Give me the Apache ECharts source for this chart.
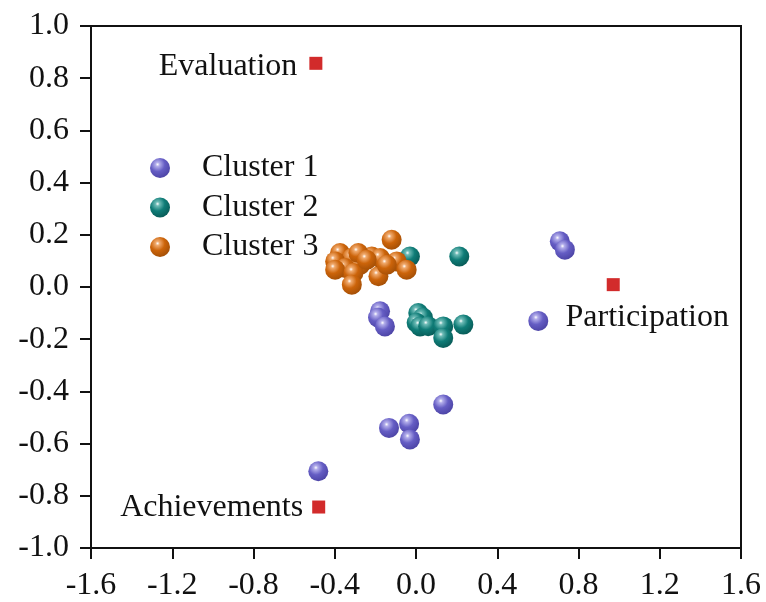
<!DOCTYPE html>
<html>
<head>
<meta charset="utf-8">
<script src="https://cdn.jsdelivr.net/npm/echarts@6/dist/echarts.min.js"></script>
<style>
  html, body { margin: 0; padding: 0; background: #fff; }
  #chart { width: 766px; height: 602px; }
</style>
</head>
<body>
<div id="chart"></div>
<script>
// Cluster members: [dimension 1, dimension 2]
const cluster1 = [
  [0.708, 0.175], [0.733, 0.143], [0.602, -0.130],
  [-0.177, -0.093], [-0.187, -0.117], [-0.153, -0.151],
  [0.134, -0.450], [-0.133, -0.540], [-0.034, -0.524],
  [-0.030, -0.584], [-0.481, -0.706]
];
const cluster2 = [
  [-0.030, 0.117], [0.213, 0.117],
  [0.011, -0.100], [0.034, -0.117], [0.003, -0.137], [0.020, -0.151],
  [0.060, -0.150], [0.134, -0.151], [0.233, -0.144], [0.134, -0.195]
];
const cluster3 = [
  [-0.120, 0.181], [-0.374, 0.130], [-0.316, 0.111], [-0.398, 0.098],
  [-0.275, 0.085], [-0.349, 0.073], [-0.398, 0.066], [-0.308, 0.054],
  [-0.316, 0.009], [-0.185, 0.041], [-0.095, 0.098], [-0.046, 0.066],
  [-0.218, 0.117], [-0.177, 0.111], [-0.144, 0.085], [-0.284, 0.130],
  [-0.243, 0.104]
];
// Variable loadings
const variableNames = ['Evaluation', 'Participation', 'Achievements'];
const variablePoints = [[-0.493, 0.857], [0.971, 0.009], [-0.479, -0.843]];

const seriesNames = ['Cluster 1', 'Cluster 2', 'Cluster 3'];
const xTicks = [-1.6, 1.6, 0.4];
const yTicks = [-1.0, 1.0, 0.2];

const FONT = 'Liberation Serif';

// shaded ball look for the cluster markers
function ball(light, base, dark) {
  return {
    type: 'radial', x: 0.38, y: 0.32, r: 0.72,
    colorStops: [
      { offset: 0, color: '#ffffff' },
      { offset: 0.14, color: light },
      { offset: 0.5, color: base },
      { offset: 1, color: dark }
    ]
  };
}
const palette = [
  ball('#b2adea', '#655dc4', '#4b43a4'),
  ball('#6fbcb7', '#0f7c77', '#085a56'),
  ball('#f0aa6e', '#cc640a', '#a24e06')
];

const clusterSeries = [cluster1, cluster2, cluster3].map((d, i) => ({
  name: seriesNames[i],
  type: 'scatter',
  data: d,
  symbol: 'circle',
  symbolSize: 20,
  itemStyle: { color: palette[i], opacity: 1 },
  z: 2 + i
}));

const labelOffsets = {
  Evaluation: { position: 'left', distance: 12, offset: [0, 3] },
  Participation: { position: 'inside', offset: [34, 33] },
  Achievements: { position: 'left', distance: 9, offset: [0, 1] }
};

const varSeries = {
  name: 'Variables',
  type: 'scatter',
  symbol: 'rect',
  symbolSize: 13,
  itemStyle: { color: '#d22b2b', opacity: 1 },
  z: 10,
  data: variablePoints.map((p, i) => ({
    value: p,
    name: variableNames[i],
    label: Object.assign({
      show: true,
      formatter: variableNames[i],
      color: '#111',
      fontFamily: FONT,
      fontSize: 32
    }, labelOffsets[variableNames[i]])
  }))
};

const chart = echarts.init(document.getElementById('chart'), null, { renderer: 'canvas' });
chart.setOption({
  animation: false,
  backgroundColor: '#ffffff',
  grid: {
    left: 91, right: 25, top: 26, bottom: 53,
    show: true, borderColor: '#111', borderWidth: 2, backgroundColor: 'transparent'
  },
  legend: {
    data: seriesNames,
    orient: 'vertical',
    left: 145, top: 147,
    itemWidth: 20, itemHeight: 20, itemGap: 7.5,
    icon: 'circle',
    textStyle: {
      fontFamily: FONT, fontSize: 32, color: '#111',
      lineHeight: 32, padding: [0, 0, 0, 27]
    }
  },
  xAxis: {
    type: 'value',
    min: xTicks[0], max: xTicks[1], interval: xTicks[2],
    axisLine: { onZero: false, lineStyle: { color: '#111', width: 2 } },
    axisTick: { show: true, inside: false, length: 11, lineStyle: { color: '#111', width: 2 } },
    splitLine: { show: false },
    axisLabel: {
      fontFamily: FONT, fontSize: 32, color: '#111', margin: 22,
      formatter: v => v.toFixed(1)
    }
  },
  yAxis: {
    type: 'value',
    min: yTicks[0], max: yTicks[1], interval: yTicks[2],
    axisLine: { onZero: false, lineStyle: { color: '#111', width: 2 } },
    axisTick: { show: true, inside: false, length: 11, lineStyle: { color: '#111', width: 2 } },
    splitLine: { show: false },
    axisLabel: {
      fontFamily: FONT, fontSize: 32, color: '#111', margin: 22,
      formatter: v => v.toFixed(1)
    }
  },
  series: clusterSeries.concat([varSeries])
});
</script>
</body>
</html>
